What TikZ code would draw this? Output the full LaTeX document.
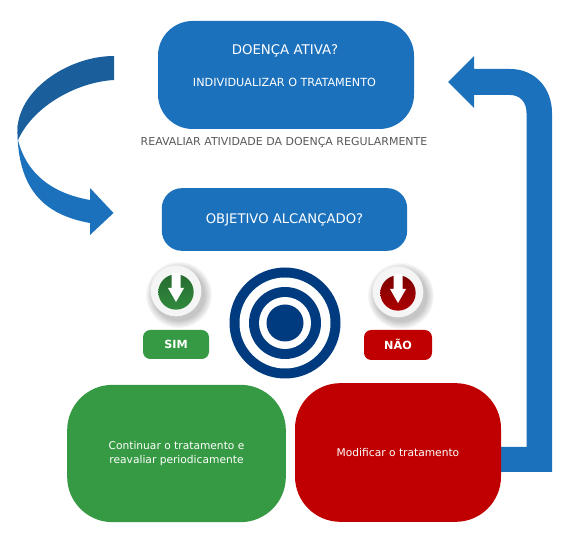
\documentclass[tikz,border=0pt]{standalone}
\usepackage{fontspec}
\setmainfont{DejaVu Sans}
\usepackage{xcolor}
\definecolor{painelazul}{HTML}{1C71BC}
\definecolor{setaescura}{HTML}{1A5F9C}
\definecolor{alvoazul}{HTML}{003A7F}
\definecolor{simverde}{HTML}{369A44}
\definecolor{naovermelho}{HTML}{C00000}
\tikzset{
  painel/.style={rounded corners=#1,inner sep=0pt,align=center,text=white},
  botao/.style={rounded corners=5.5pt,inner sep=0pt,text=white,font=\fontsize{8.4}{10}\selectfont\bfseries}
}
\begin{document}
\begin{tikzpicture}[x=0.75pt,y=-0.75pt]
  \useasboundingbox (0,0) rectangle (575,541);
  % Curved arrow on the left (dark upper part, light lower part)
  \fill[painelazul] (17.5,125) .. controls (16,190) and (45,215) .. (90,223)
    -- (90,235) -- (113.5,213) -- (90,188) -- (90,200)
    .. controls (50,193) and (26,172) .. (18,140) -- cycle;
  \fill[setaescura] (114,56) .. controls (70,56) and (20,88) .. (17.5,128)
    -- (18,140) .. controls (34,105) and (78,82) .. (114,80) -- cycle;
  % Return arrow on the right
  \fill[painelazul] (480,447) -- (526.5,447) -- (526.5,113)
    .. controls (526.5,102) and (520,95) .. (510,95) -- (474,95) -- (474,108)
    -- (448,82) -- (474,56) -- (474,69) -- (510,69)
    .. controls (535,69) and (552,88) .. (552,113) -- (552,472) -- (480,472) -- cycle;
  % Main panels
  \node[painel=26pt,fill=painelazul,minimum width=192pt,minimum height=81pt] (doenca) at (286,75) {};
  \node[text=white,font=\fontsize{10}{12}\selectfont] (ativa) at (285,50.5) {DOENÇA ATIVA?};
  \node[text=white,font=\fontsize{8.4}{10}\selectfont] (individual) at (284.5,82) {INDIVIDUALIZAR O TRATAMENTO};
  \node[text=black!65,font=\fontsize{8.23}{10}\selectfont] (reavaliar) at (284,142.5) {REAVALIAR ATIVIDADE DA DOENÇA REGULARMENTE};
  \node[painel=15pt,fill=painelazul,minimum width=184pt,minimum height=47pt,font=\fontsize{9.9}{12}\selectfont] (objetivo) at (284.5,219.5) {OBJETIVO ALCANÇADO?};
  % Round badges with a white arrow
  \foreach \nome/\cx/\cy/\claro/\escuro in {sim/176/291/simverde!70!black/simverde!90!black,nao/398/292/naovermelho!65!black/naovermelho!90!black}{
    \foreach \r in {33,32,31,30,29,28,27,26}
      \fill[black,opacity=0.03] (\cx+3,\cy+4) circle[radius=\r*0.75pt];
    \node[circle,fill=black!4,minimum size=38pt,inner sep=0pt] (\nome fora) at (\cx,\cy) {};
    \node[circle,top color=\claro,bottom color=\escuro,minimum size=26.5pt,inner sep=0pt] (\nome dentro) at (\cx,\cy+1) {};
    \fill[white] (\cx-4.5,\cy-18) -- (\cx+4.5,\cy-18) -- (\cx+4.5,\cy-3) -- (\cx+8,\cy-3)
      -- (\cx,\cy+11) -- (\cx-8,\cy-3) -- (\cx-4.5,\cy-3) -- cycle;
  }
  % Target
  \foreach \r/\c in {55.5/alvoazul,45.5/white,36/alvoazul,26/white,18.5/alvoazul}
    \fill[\c] (285,323) circle[radius=\r*0.75pt];
  \node[botao,fill=simverde,minimum width=49.5pt,minimum height=21.75pt] (sim) at (176,344.5) {\raisebox{0.5pt}{SIM}};
  \node[botao,fill=naovermelho,minimum width=51pt,minimum height=22.5pt] (nao) at (398,345) {\raisebox{0.5pt}{NÃO}};
  \node[painel=34pt,fill=simverde,minimum width=164pt,minimum height=103pt,font=\fontsize{8}{10.5}\selectfont] (continuar) at (176.5,453.5) {Continuar o tratamento e\\reavaliar periodicamente};
  \node[painel=34pt,fill=naovermelho,minimum width=154.5pt,minimum height=104pt,font=\fontsize{8}{12}\selectfont] (modificar) at (398,452.5) {Modificar o tratamento};
\end{tikzpicture}
\end{document}
